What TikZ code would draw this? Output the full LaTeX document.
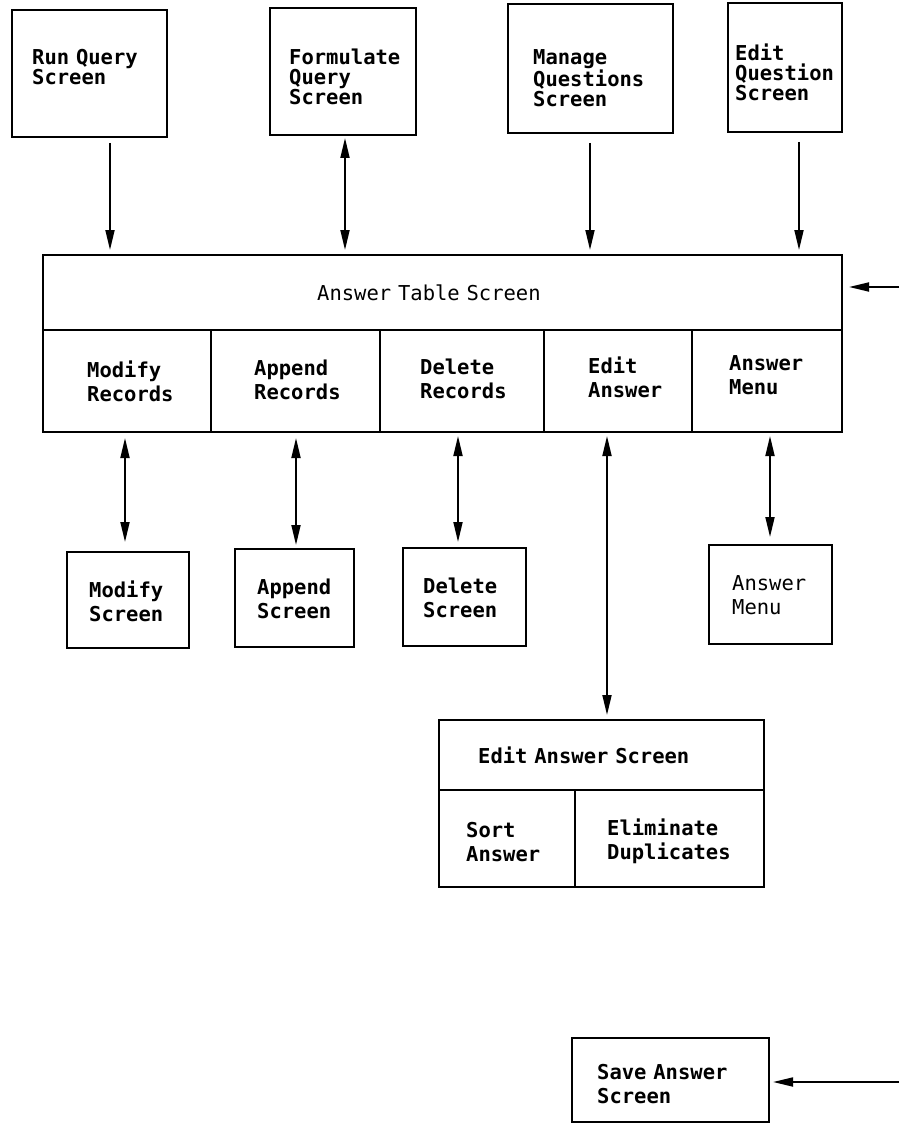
\documentclass[tikz,border=0pt]{standalone}
\usepackage{fontspec}
\setmonofont{DejaVu Sans Mono}
\usetikzlibrary{arrows.meta}
\newcommand\monospaces{\spaceskip=0.602em\relax\xspaceskip=0.602em\relax}
\begin{document}
\begin{tikzpicture}[x=1pt,y=-1pt,
  box/.style={draw, line width=1.8pt, inner sep=0pt, outer sep=0pt, anchor=north west},
  lbl/.style={anchor=base west, inner sep=0pt, text width=400pt,
    font=\ttfamily\bfseries\fontsize{20.5}{20}\selectfont\raggedright\monospaces},
  lblc/.style={lbl, font=\ttfamily\bfseries\fontsize{20.5}{24}\selectfont\raggedright\monospaces},
  lbll/.style={lbl, font=\ttfamily\fontsize{20.5}{24}\selectfont\raggedright\monospaces},
  tip/.tip={Triangle[length=20pt,width=9pt]},
  arr/.style={line width=1.8pt, -tip},
  darr/.style={line width=1.8pt, tip-tip},
]
\useasboundingbox (0,0) rectangle (899,1126);

% top row of screens
\node[box, minimum width=155pt, minimum height=127pt] (rq) at (12,10) {};
\node[box, minimum width=146pt, minimum height=127pt] (fq) at (270,8) {};
\node[box, minimum width=165pt, minimum height=129pt] (mq) at (508,4) {};
\node[box, minimum width=114pt, minimum height=129pt] (eq) at (728,3) {};
\node[lbl] (rq-t) at (32,65) {Run Query\\Screen};
\node[lbl] (fq-t) at (289,65) {Formulate\\Query\\Screen};
\node[lbl] (mq-t) at (533,65) {Manage\\Questions\\Screen};
\node[lbl] (eq-t) at (735,61) {Edit\\Question\\Screen};

% answer table screen with its five options
\node[box, minimum width=799pt, minimum height=177pt] (ats) at (43,255) {};
\node[box, minimum width=799pt, minimum height=75pt] (ats-h) at (43,255) {};
\node[box, minimum width=168pt, minimum height=102pt] (c1) at (43,330) {};
\node[box, minimum width=169pt, minimum height=102pt] (c2) at (211,330) {};
\node[box, minimum width=164pt, minimum height=102pt] (c3) at (380,330) {};
\node[box, minimum width=148pt, minimum height=102pt] (c4) at (544,330) {};
\node[box, minimum width=150pt, minimum height=102pt] (c5) at (692,330) {};
\node[lbll] (ats-t) at (317,300) {Answer Table Screen};
\node[lblc] (c1-t) at (87,377) {Modify\\Records};
\node[lblc] (c2-t) at (254,375) {Append\\Records};
\node[lblc] (c3-t) at (420,374) {Delete\\Records};
\node[lblc] (c4-t) at (588,373) {Edit\\Answer};
\node[lblc] (c5-t) at (729,370) {Answer\\Menu};

% screens reached from the options
\node[box, minimum width=122pt, minimum height=96pt] (ms) at (67,552) {};
\node[box, minimum width=119pt, minimum height=98pt] (as) at (235,549) {};
\node[box, minimum width=123pt, minimum height=98pt] (ds) at (403,548) {};
\node[box, minimum width=123pt, minimum height=99pt] (am) at (709,545) {};
\node[lblc] (ms-t) at (89,597) {Modify\\Screen};
\node[lblc] (as-t) at (257,594) {Append\\Screen};
\node[lblc] (ds-t) at (423,593) {Delete\\Screen};
\node[lbll] (am-t) at (732,590) {Answer\\Menu};

% edit answer screen
\node[box, minimum width=325pt, minimum height=167pt] (eas) at (439,720) {};
\node[box, minimum width=325pt, minimum height=70pt] (eas-h) at (439,720) {};
\node[box, minimum width=136pt, minimum height=97pt] (srt) at (439,790) {};
\node[box, minimum width=189pt, minimum height=97pt] (eli) at (575,790) {};
\node[lbl] (eas-t) at (478,763) {Edit Answer Screen};
\node[lblc] (srt-t) at (466,837) {Sort\\Answer};
\node[lblc] (eli-t) at (607,835) {Eliminate\\Duplicates};

% save answer screen
\node[box, minimum width=197pt, minimum height=84pt] (sv) at (572,1038) {};
\node[lblc] (sv-t) at (597,1079) {Save Answer\\Screen};

% arrow columns and free ends
\coordinate (xa) at (110,0);
\coordinate (xb) at (345,0);
\coordinate (xc) at (590,0);
\coordinate (xd) at (799,0);
\coordinate (xe) at (125,0);
\coordinate (xf) at (296,0);
\coordinate (xg) at (458,0);
\coordinate (xh) at (607,0);
\coordinate (xi) at (770,0);
\coordinate (in1) at (899,287);
\coordinate (in2) at (899,1082);

% connectors into the answer table screen
\draw[arr, shorten <=6pt, shorten >=5pt] (rq.south -| xa) -- (ats.north -| xa);
\draw[darr, shorten <=3pt, shorten >=5pt] (fq.south -| xb) -- (ats.north -| xb);
\draw[arr, shorten <=10pt, shorten >=5pt] (mq.south -| xc) -- (ats.north -| xc);
\draw[arr, shorten <=10pt, shorten >=5pt] (eq.south -| xd) -- (ats.north -| xd);
\draw[arr, shorten >=7pt] (in1) -- (ats.east |- in1);

% connectors from the options
\draw[darr, shorten <=6pt, shorten >=10pt] (ats.south -| xe) -- (ms.north -| xe);
\draw[darr, shorten <=6pt, shorten >=4pt] (ats.south -| xf) -- (as.north -| xf);
\draw[darr, shorten <=4pt, shorten >=6pt] (ats.south -| xg) -- (ds.north -| xg);
\draw[darr, shorten <=4pt, shorten >=5pt] (ats.south -| xh) -- (eas.north -| xh);
\draw[darr, shorten <=4pt, shorten >=8pt] (ats.south -| xi) -- (am.north -| xi);

% connector into the save answer screen
\draw[arr, shorten >=4pt] (in2) -- (sv.east |- in2);
\end{tikzpicture}
\end{document}
